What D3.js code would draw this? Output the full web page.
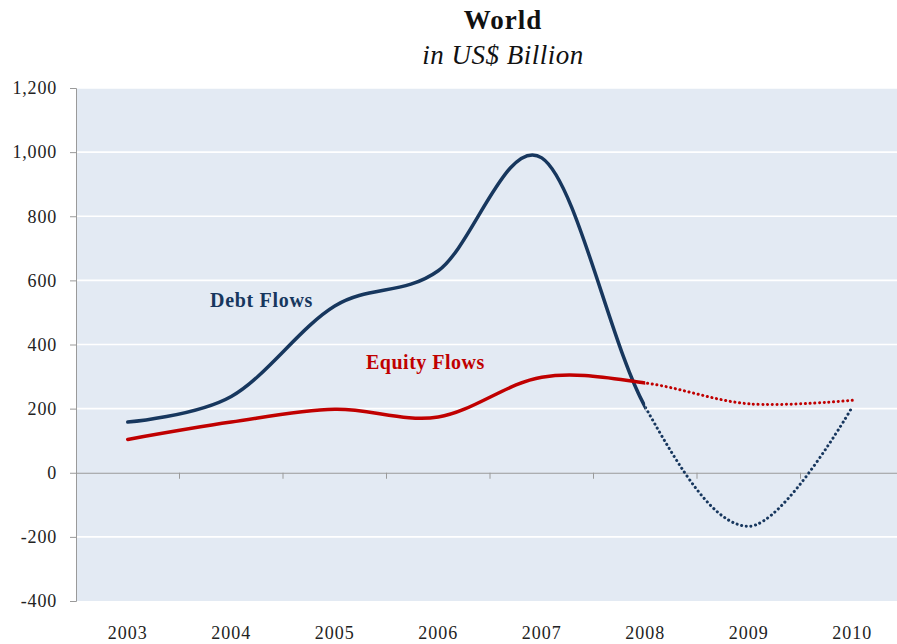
<!DOCTYPE html>
<html>
<head>
<meta charset="utf-8">
<script src="https://cdn.jsdelivr.net/npm/d3@7"></script>
<style>
  html, body { margin: 0; padding: 0; background: #fff; }
  svg { display: block; }
</style>
</head>
<body>
<svg id="chart" width="897" height="644"></svg>
<script>
// Capital flows, US$ billion (2009–2010 shown as projections)
const years = ["2003", "2004", "2005", "2006", "2007", "2008", "2009", "2010"];
const debtFlows = [158, 238, 520, 630, 982, 205, -167, 205];
const equityFlows = [104, 158, 198, 174, 298, 280, 215, 226];
const yTicks = [-400, -200, 0, 200, 400, 600, 800, 1000, 1200];
const projectionStart = "2008";

const svg = d3.select("#chart");
const W = 897, H = 644;
const plot = { left: 76, top: 88, right: 904, bottom: 601 };
const font = "'Liberation Serif', 'DejaVu Serif', serif";

const x = d3.scaleBand().domain(years).range([plot.left, plot.right]).padding(0);
const xc = d => x(d) + x.bandwidth() / 2;
const y = d3.scaleLinear().domain([-400, 1200]).range([plot.bottom, plot.top]);

// plot background
svg.append("rect")
  .attr("x", plot.left).attr("y", plot.top)
  .attr("width", plot.right - plot.left).attr("height", plot.bottom - plot.top)
  .attr("fill", "#E3EAF3");

// gridlines
svg.append("g").selectAll("line")
  .data(yTicks.filter(v => v !== 0 && v !== -400))
  .join("line")
  .attr("x1", plot.left).attr("x2", plot.right)
  .attr("y1", d => y(d)).attr("y2", d => y(d))
  .attr("stroke", "#fff").attr("stroke-width", 1.6);

// y axis (plain hyphen for negatives)
const fmt = d3.format(",");
const yAxis = svg.append("g")
  .attr("transform", `translate(${plot.left},0)`)
  .call(d3.axisLeft(y).tickValues(yTicks).tickSize(6).tickPadding(13)
    .tickFormat(d => fmt(d).replace("\u2212", "-")));
yAxis.select(".domain").attr("stroke", "#9a9a9a");
yAxis.selectAll(".tick line").attr("stroke", "#9a9a9a");
yAxis.selectAll("text")
  .attr("font-family", font).attr("font-size", 18).attr("letter-spacing", 0.8)
  .attr("fill", "#222");

// category axis along zero
const xAxis = svg.append("g")
  .attr("transform", `translate(0,${y(0)})`)
  .call(d3.axisBottom(x).tickSize(0).tickFormat(""));
xAxis.select(".domain").attr("stroke", "#9a9a9a").attr("stroke-width", 1.2);
svg.append("g").selectAll("line")
  .data(years.slice(1))
  .join("line")
  .attr("x1", d => x(d)).attr("x2", d => x(d))
  .attr("y1", y(0)).attr("y2", y(0) + 6)
  .attr("stroke", "#9a9a9a");

// year labels below the plot
svg.append("g").selectAll("text")
  .data(years)
  .join("text")
  .attr("x", d => xc(d)).attr("y", 639)
  .attr("text-anchor", "middle")
  .attr("font-family", font).attr("font-size", 18).attr("letter-spacing", 1)
  .attr("fill", "#222")
  .text(d => d);

// clipping: solid up to projection start, dotted afterwards
const defs = svg.append("defs");
const splitX = xc(projectionStart);
defs.append("clipPath").attr("id", "actual")
  .append("rect").attr("x", 0).attr("y", 0).attr("width", splitX).attr("height", H);
defs.append("clipPath").attr("id", "proj")
  .append("rect").attr("x", splitX).attr("y", 0).attr("width", W - splitX).attr("height", H);

const line = d3.line()
  .x((d, i) => xc(years[i]))
  .y(d => y(d))
  .curve(d3.curveCardinal.tension(0));

function drawSeries(values, color) {
  svg.append("path")
    .attr("d", line(values))
    .attr("clip-path", "url(#actual)")
    .attr("fill", "none").attr("stroke", color)
    .attr("stroke-width", 3.5).attr("stroke-linecap", "round");
  svg.append("path")
    .attr("d", line(values))
    .attr("clip-path", "url(#proj)")
    .attr("fill", "none").attr("stroke", color)
    .attr("stroke-width", 3).attr("stroke-linecap", "round")
    .attr("stroke-dasharray", "0.1 4.6");
}
drawSeries(debtFlows, "#17375E");
drawSeries(equityFlows, "#C00000");

// series labels
svg.append("text")
  .attr("x", 210).attr("y", 307)
  .attr("font-family", font).attr("font-size", 20).attr("font-weight", "bold")
  .attr("letter-spacing", 0.7)
  .attr("fill", "#17375E").text("Debt Flows");
svg.append("text")
  .attr("x", 366).attr("y", 369)
  .attr("font-family", font).attr("font-size", 20).attr("font-weight", "bold")
  .attr("letter-spacing", 0.5)
  .attr("fill", "#C00000").text("Equity Flows");

// title
svg.append("text")
  .attr("x", 503).attr("y", 29).attr("text-anchor", "middle")
  .attr("font-family", font).attr("font-size", 27).attr("font-weight", "bold")
  .attr("letter-spacing", 1)
  .attr("fill", "#111").text("World");
svg.append("text")
  .attr("x", 503).attr("y", 64).attr("text-anchor", "middle")
  .attr("font-family", font).attr("font-size", 27).attr("font-style", "italic")
  .attr("letter-spacing", 0.5)
  .attr("fill", "#111").text("in US$ Billion");
</script>
</body>
</html>
